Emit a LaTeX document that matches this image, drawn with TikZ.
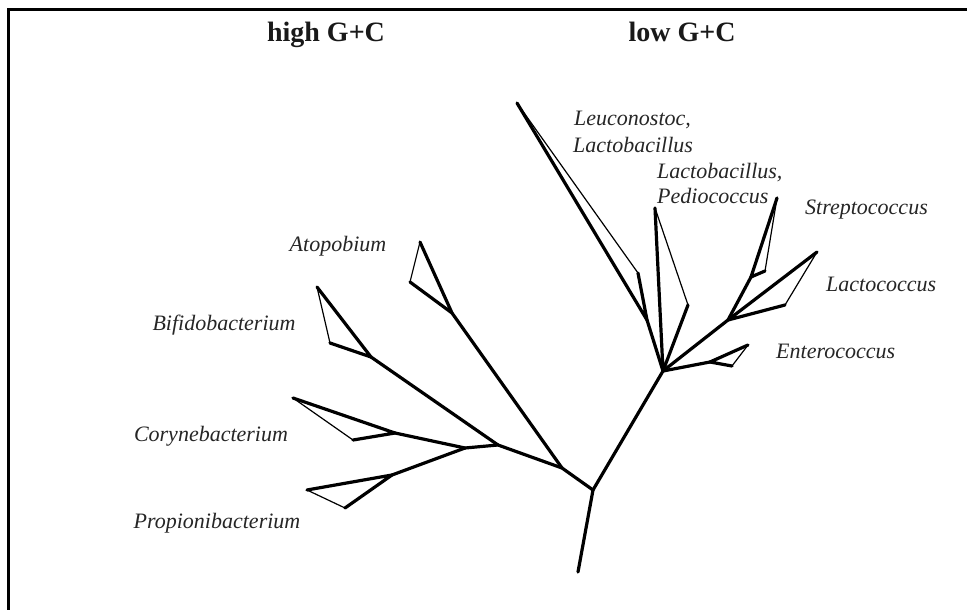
\documentclass[tikz,border=0pt]{standalone}
\usepackage{fontspec}
\setmainfont{Liberation Serif}
\begin{document}
\begin{tikzpicture}[x=1pt,y=-1pt,
  br/.style={line width=3.2pt,line join=round,line cap=round},
  tn/.style={line width=1.2pt,line join=round,line cap=round},
  lab/.style={font=\fontsize{22}{24}\selectfont\itshape,text=black!85,inner sep=0pt},
  head/.style={font=\fontsize{28}{30}\selectfont\bfseries,text=black!90,inner sep=0pt,anchor=base}]
\useasboundingbox (0,0) rectangle (967,610);
\fill[white] (0,0) rectangle (967,610);
% frame
\coordinate (f1) at (8,610);
\coordinate (f2) at (8,10);
\coordinate (f3) at (967,10);
\draw[line width=3pt] (f1) -- (f2) -- (f3);
% headings
\node[head] (hgc) at (326,42) {high G+C};
\node[head] (lgc) at (682,42) {low G+C};
% coordinates - left
\coordinate (root) at (578,572);
\coordinate (R) at (593,490);
\coordinate (A) at (562,468);
\coordinate (B) at (498,445);
\coordinate (C1) at (465,448);
\coordinate (Ja) at (452,313);
\coordinate (a1) at (420,242);
\coordinate (a2) at (410,282);
\coordinate (Jb) at (371,357);
\coordinate (b1) at (317,287);
\coordinate (b2) at (330,343);
\coordinate (Jc) at (395,433);
\coordinate (c1) at (293,398);
\coordinate (c2) at (353,440);
\coordinate (Jp) at (392,475);
\coordinate (p1) at (307,490);
\coordinate (p2) at (345,508);
% coordinates - right
\coordinate (L) at (663,371);
\coordinate (Jl) at (647,320);
\coordinate (l1) at (517,103);
\coordinate (l2) at (638,273);
\coordinate (m1) at (655,208);
\coordinate (m2) at (688,305);
\coordinate (Jlc) at (728,320);
\coordinate (lc1) at (817,252);
\coordinate (lc2) at (785,305);
\coordinate (Js) at (751,277);
\coordinate (s1) at (777,198);
\coordinate (s2) at (765,271);
\coordinate (Je) at (710,362);
\coordinate (e1) at (748,345);
\coordinate (e2) at (732,366);
% left tree
\draw[br] (root) -- (R) -- (A) -- (B) -- (C1);
\draw[br] (A) -- (Ja);
\draw[br] (a1) -- (Ja) -- (a2);
\draw[tn] (a1) -- (a2);
\draw[br] (B) -- (Jb);
\draw[br] (b1) -- (Jb) -- (b2);
\draw[tn] (b1) -- (b2);
\draw[br] (C1) -- (Jc);
\draw[br] (c1) -- (Jc) -- (c2);
\draw[tn] (c1) -- (c2);
\draw[br] (C1) -- (Jp);
\draw[br] (p1) -- (Jp) -- (p2);
\draw[tn] (p1) -- (p2);
% right tree
\draw[br] (R) -- (L);
\draw[br] (L) -- (Jl);
\draw[br] (l1) -- (Jl) -- (l2);
\draw[tn] (l1) -- (l2);
\draw[br] (m1) -- (L) -- (m2);
\draw[tn] (m1) -- (m2);
\draw[br] (L) -- (Jlc) -- (Js);
\draw[br] (lc1) -- (Jlc) -- (lc2);
\draw[tn] (lc1) -- (lc2);
\draw[br] (s1) -- (Js) -- (s2);
\draw[tn] (s1) -- (s2);
\draw[br] (L) -- (Je);
\draw[br] (e1) -- (Je) -- (e2);
\draw[tn] (e1) -- (e2);
% labels
\node[lab,anchor=base] (atopo) at (338,251) {Atopobium};
\node[lab,anchor=base] (bifido) at (224,330) {Bifidobacterium};
\node[lab,anchor=base] (coryne) at (211,441) {Corynebacterium};
\node[lab,anchor=base] (propioni) at (217,528) {Propionibacterium};
\node[lab,anchor=base west] (leuco) at (574,125) {Leuconostoc,};
\node[lab,anchor=base west] (lacto1) at (573,152) {Lactobacillus};
\node[lab,anchor=base west] (lacto2) at (657,178) {Lactobacillus,};
\node[lab,anchor=base west] (pedio) at (657,203) {Pediococcus};
\node[lab,anchor=base west] (strepto) at (805,214) {Streptococcus};
\node[lab,anchor=base west] (lactoc) at (826,291) {Lactococcus};
\node[lab,anchor=base west] (entero) at (776,358) {Enterococcus};
\end{tikzpicture}
\end{document}
